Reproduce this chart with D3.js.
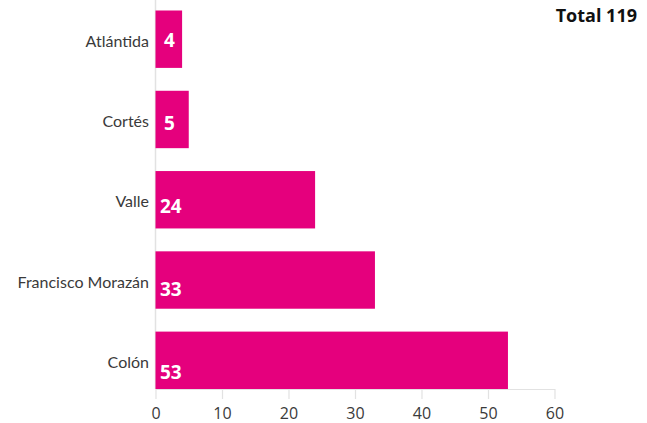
<!DOCTYPE html>
<html>
<head>
<meta charset="utf-8">
<script src="https://cdn.jsdelivr.net/npm/d3@7"></script>
<style>
  html, body { margin: 0; padding: 0; background: #fff; }
  svg { display: block; }
</style>
</head>
<body>
<svg id="chart" width="647" height="423"></svg>
<script>
const categories = ["Atlántida", "Cortés", "Valle", "Francisco Morazán", "Colón"];
const values = [4, 5, 24, 33, 53];
const xTicks = [0, 10, 20, 30, 40, 50, 60];
const totalLabel = "Total 119";

(function () {
const svg = d3.select("#chart");
const mLeft = 155.5, mRight = 554.5, mTop = 10.5, mBottom = 389;

const x = d3.scaleLinear().domain([0, 60]).range([mLeft, mRight]);
const y = d3.scaleBand().domain(categories).range([mTop, mBottom])
  .paddingInner(0.285).paddingOuter(0);

// vertical baseline
svg.append("line")
  .attr("x1", mLeft).attr("x2", mLeft).attr("y1", 0).attr("y2", mBottom)
  .attr("stroke", "#e2e2e2").attr("stroke-width", 1.5);

// bottom axis
const xAxis = d3.axisBottom(x).tickValues(xTicks).tickSize(10).tickSizeOuter(0).tickPadding(9);
const gx = svg.append("g").attr("transform", `translate(0,${mBottom})`).call(xAxis);
gx.select(".domain").attr("stroke", "#e2e2e2").attr("stroke-width", 1.2);
gx.selectAll(".tick line").attr("stroke", "#e2e2e2").attr("stroke-width", 1.2);
gx.selectAll(".tick text")
  .attr("font-family", "'Open Sans', sans-serif")
  .attr("font-size", 16)
  .attr("fill", "#3a3a3a");

// bars
svg.selectAll("rect.bar").data(categories).enter().append("rect")
  .attr("class", "bar")
  .attr("x", x(0))
  .attr("y", d => y(d))
  .attr("width", (d, i) => x(values[i]) - x(0))
  .attr("height", y.bandwidth())
  .attr("fill", "#e5007d");

// category labels
svg.selectAll("text.cat").data(categories).enter().append("text")
  .attr("class", "cat")
  .attr("x", 149)
  .attr("y", d => y(d) + y.bandwidth() / 2 + 2)
  .attr("dy", "0.35em")
  .attr("text-anchor", "end")
  .attr("font-family", "Lato, sans-serif")
  .attr("font-size", 16)
  .attr("fill", "#3a3a3a")
  .text(d => d);

// value labels
svg.selectAll("text.val").data(categories).enter().append("text")
  .attr("class", "val")
  .attr("x", (d, i) => values[i] < 10 ? 164 : 160)
  .attr("y", (d, i) => y(d) + y.bandwidth() / 2 + 1 + i * 2.6)
  .attr("dy", "0.36em")
  .attr("font-family", "'Open Sans', sans-serif")
  .attr("font-weight", "bold")
  .attr("font-size", 19)
  .attr("fill", "#fff")
  .text((d, i) => values[i]);

// total
svg.append("text")
  .attr("x", 637).attr("y", 22)
  .attr("text-anchor", "end")
  .attr("font-family", "'Open Sans', sans-serif")
  .attr("font-weight", "bold")
  .attr("font-size", 18)
  .attr("fill", "#111")
  .text(totalLabel);
})();
</script>
</body>
</html>
